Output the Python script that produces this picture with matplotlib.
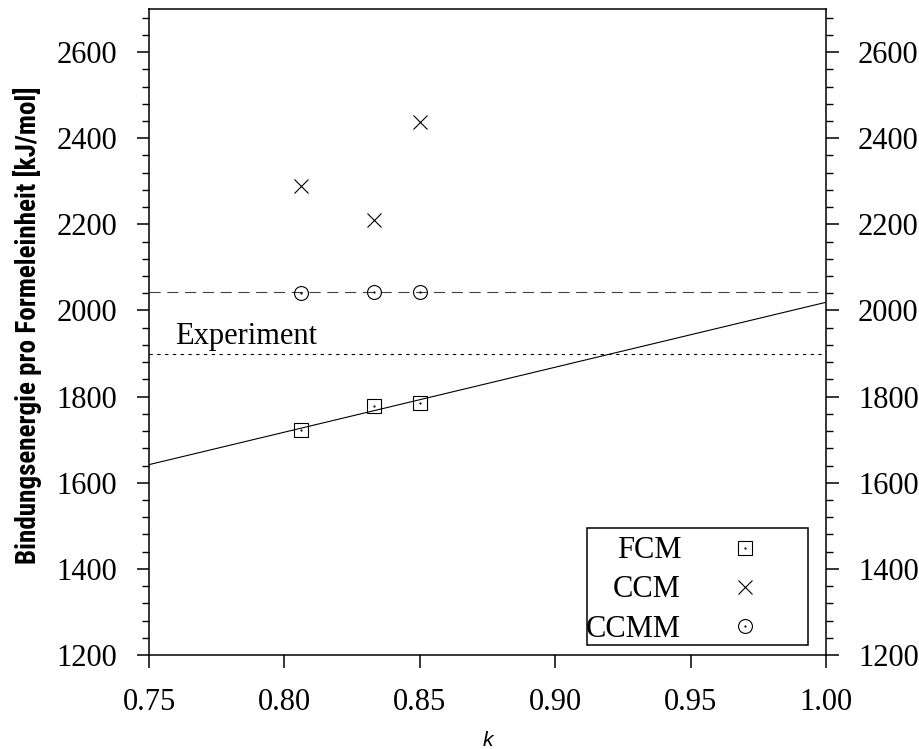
import matplotlib
matplotlib.use("Agg")
import matplotlib.pyplot as plt
from matplotlib.ticker import MultipleLocator
from matplotlib.patches import Rectangle

# Daten
k_vals = [0.806, 0.833, 0.850]
fcm = [1722, 1778, 1785]
ccm = [2290, 2210, 2437]
ccmm = [2040, 2042, 2042]

fit_k = [0.75, 1.00]
fit_e = [1642, 2019]
ccmm_level = 2042
experiment = 1900

series_names = ["FCM", "CCM", "CCMM"]

SERIF = "Liberation Serif"
FS = 22

fig = plt.figure(figsize=(9.19, 7.49), dpi=100)
ax = fig.add_axes([149 / 919, 94 / 749, 677 / 919, 646 / 749])

ax.plot(fit_k, fit_e, color="black", lw=0.8)
ax.axhline(ccmm_level, color="#404040", lw=0.8, ls=(0, (10, 6)))
ax.axhline(experiment, color="black", lw=0.8, ls=(0, (3, 4)))
ax.text(0.7598, 1921, "Experiment", family=SERIF, fontsize=FS, va="baseline")

styles = [dict(marker="s", mfc="none"), dict(marker="x"),
          dict(marker="o", mfc="none")]
for vals, st in zip([fcm, ccm, ccmm], styles):
    ax.plot(k_vals, vals, ls="none", ms=10, mec="black", mew=0.8, **st)
# punkt in der mitte wie bei gnuplot
ax.plot(k_vals + k_vals, fcm + ccmm, ls="none", marker=".", ms=1.2,
        color="black")

ax.set_xlim(0.75, 1.00)
ax.set_ylim(1200, 2700)
ax.xaxis.set_major_locator(MultipleLocator(0.05))
ax.yaxis.set_major_locator(MultipleLocator(200))
ax.yaxis.set_minor_locator(MultipleLocator(40))
ax.xaxis.set_major_formatter(plt.FormatStrFormatter("%.2f"))

ax.tick_params(axis="both", which="both", direction="out", labelsize=FS)
ax.tick_params(axis="x", which="major", length=9, width=1.1, top=False,
               pad=15)
ax.tick_params(axis="y", which="major", length=9, width=1.1, right=True,
               labelright=True, pad=14)
ax.tick_params(axis="y", which="minor", length=5, width=1.0, right=True)
for lab in ax.get_xticklabels() + ax.get_yticklabels():
    lab.set_family(SERIF)
for sp in ax.spines.values():
    sp.set_linewidth(1.1)

ax.set_xlabel("k", fontsize=15, style="italic", family="Liberation Sans",
              labelpad=10)
ax.set_ylabel("Bindungsenergie pro Formeleinheit [kJ/mol]", fontsize=19.5,
              weight="bold", family=["Roboto Condensed", "Liberation Sans"])
ax.yaxis.set_label_coords(-0.158, 0.51)

# Legende im gnuplot-Stil: Text rechtsbuendig, Symbol rechts daneben
ax.add_patch(Rectangle((0.6465, 0.0155), 0.327, 0.1805, transform=ax.transAxes,
                       fill=False, lw=1.1, ec="black", zorder=5))
rows = [0.1497, 0.0893, 0.0279]
for name, st, yb in zip(series_names, styles, rows):
    ax.text(0.786, yb, name, transform=ax.transAxes, ha="right",
            va="baseline", family=SERIF, fontsize=FS)
    ax.plot([0.880], [yb + 0.0165], transform=ax.transAxes, ls="none", ms=10,
            mec="black", mew=0.8, clip_on=False, **st)
    if st["marker"] != "x":
        ax.plot([0.880], [yb + 0.0165], transform=ax.transAxes, ls="none",
                marker=".", ms=1.2, color="black")

fig.savefig("out.png", dpi=100)
